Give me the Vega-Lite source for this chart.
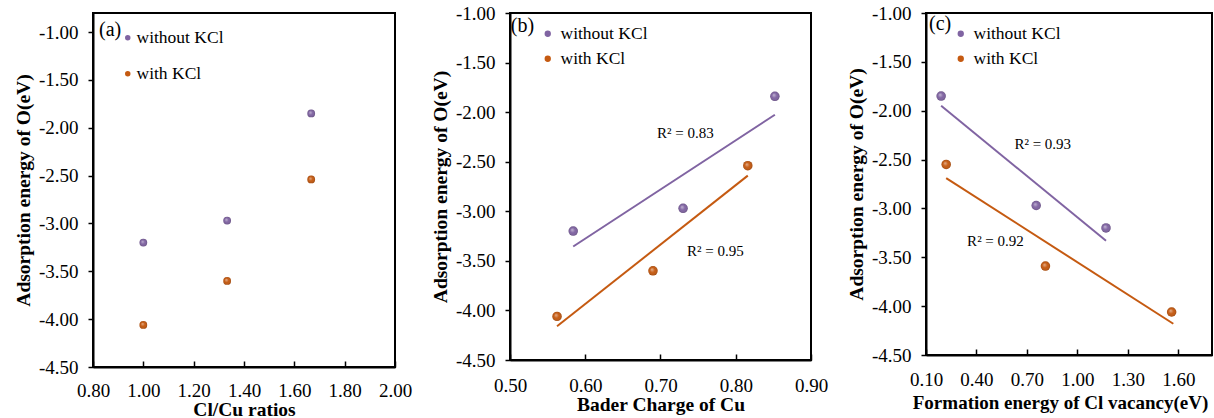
{
  "$schema": "https://vega.github.io/schema/vega-lite/v6.json",
  "background": "white",
  "padding": {"left": 12, "top": 3, "right": 0, "bottom": 0},
  "bounds": "flush",
  "spacing": 115,
  "config": {
    "font": "Liberation Serif",
    "view": {"stroke": "black", "strokeWidth": 2},
    "style": {"guide-label": {"font": "Liberation Serif"}, "guide-title": {"font": "Liberation Serif"}},
    "axis": {
      "grid": false,
      "domainColor": "black",
      "domainWidth": 2,
      "tickColor": "black",
      "tickWidth": 1.5,
      "labelColor": "black",
      "labelFont": "Liberation Serif",
      "labelFontSize": 19,
      "titleFont": "Liberation Serif",
      "titleFontSize": 19.5,
      "titleFontWeight": "bold",
      "titleColor": "black",
      "labelFlush": false,
      "labelOverlap": false
    },
    "axisX": {"tickSize": -6, "labelPadding": 20, "titlePadding": 3, "labelFont": "Liberation Serif"},
    "axisY": {"tickSize": 5, "labelPadding": 10, "titlePadding": 5, "labelFont": "Liberation Serif"},
    "legend": {
      "labelFont": "Liberation Serif",
      "labelFontSize": 17.5,
      "labelColor": "black",
      "symbolType": "circle",
      "symbolSize": 36,
      "symbolStrokeWidth": 0,
      "orient": "none",
      "title": null
    }
  },
  "datasets": {
    "points": [
      {"panel": "a", "series": "without KCl", "x": 1.0, "y": -3.20},
      {"panel": "a", "series": "without KCl", "x": 1.333, "y": -2.97},
      {"panel": "a", "series": "without KCl", "x": 1.667, "y": -1.85},
      {"panel": "a", "series": "with KCl", "x": 1.0, "y": -4.06},
      {"panel": "a", "series": "with KCl", "x": 1.333, "y": -3.60},
      {"panel": "a", "series": "with KCl", "x": 1.667, "y": -2.54},
      {"panel": "b", "series": "without KCl", "x": 0.584, "y": -3.20},
      {"panel": "b", "series": "without KCl", "x": 0.730, "y": -2.97},
      {"panel": "b", "series": "without KCl", "x": 0.852, "y": -1.84},
      {"panel": "b", "series": "with KCl", "x": 0.5625, "y": -4.06},
      {"panel": "b", "series": "with KCl", "x": 0.690, "y": -3.60},
      {"panel": "b", "series": "with KCl", "x": 0.816, "y": -2.54},
      {"panel": "c", "series": "without KCl", "x": 0.19, "y": -1.85},
      {"panel": "c", "series": "without KCl", "x": 0.755, "y": -2.97},
      {"panel": "c", "series": "without KCl", "x": 1.17, "y": -3.20},
      {"panel": "c", "series": "with KCl", "x": 0.22, "y": -2.55},
      {"panel": "c", "series": "with KCl", "x": 0.81, "y": -3.59},
      {"panel": "c", "series": "with KCl", "x": 1.56, "y": -4.06}
    ],
    "trends": [
      {"panel": "b", "series": "without KCl", "x": 0.584, "y": -3.355},
      {"panel": "b", "series": "without KCl", "x": 0.852, "y": -2.026},
      {"panel": "b", "series": "with KCl", "x": 0.5625, "y": -4.16},
      {"panel": "b", "series": "with KCl", "x": 0.816, "y": -2.64},
      {"panel": "c", "series": "without KCl", "x": 0.19, "y": -1.95},
      {"panel": "c", "series": "without KCl", "x": 1.17, "y": -3.33},
      {"panel": "c", "series": "with KCl", "x": 0.22, "y": -2.69},
      {"panel": "c", "series": "with KCl", "x": 1.57, "y": -4.18}
    ],
    "notes": [
      {"panel": "a", "kind": "tag", "text": "(a)", "x": 0.824, "y": -0.975},
      {"panel": "b", "kind": "tag", "text": "(b)", "x": 0.501, "y": -1.135},
      {"panel": "c", "kind": "tag", "text": "(c)", "x": 0.118, "y": -1.11},
      {"panel": "b", "kind": "r2", "text": "R² = 0.83", "x": 0.733, "y": -2.21},
      {"panel": "b", "kind": "r2", "text": "R² = 0.95", "x": 0.773, "y": -3.40},
      {"panel": "c", "kind": "r2", "text": "R² = 0.93", "x": 0.794, "y": -2.34},
      {"panel": "c", "kind": "r2", "text": "R² = 0.92", "x": 0.513, "y": -3.33}
    ]
  },
  "resolve": {"scale": {"color": "independent", "x": "independent", "y": "independent"}, "legend": {"color": "independent"}},
  "hconcat": [
    {
      "width": 302,
      "height": 354,
      "layer": [
        {
          "data": {"name": "points"},
          "transform": [{"filter": "datum.panel === 'a'"}],
          "mark": {"type": "circle", "size": 60, "opacity": 1},
          "encoding": {
            "x": {"field": "x", "type": "quantitative", "scale": {"domain": [0.8, 2.0], "nice": false, "zero": false},
                  "axis": {"title": "Cl/Cu ratios", "values": [0.8, 1.0, 1.2, 1.4, 1.6, 1.8, 2.0], "format": ".2f", "labelFont": "Liberation Serif", "labelPadding": 20, "titlePadding": 0}},
            "y": {"field": "y", "type": "quantitative", "scale": {"domain": [-4.5, -0.8], "nice": false, "zero": false},
                  "axis": {"title": "Adsorption energy of O(eV)", "values": [-4.5, -4.0, -3.5, -3.0, -2.5, -2.0, -1.5, -1.0], "labelFont": "Liberation Serif",
                           "labelExpr": "replace(format(datum.value, '.2f'), '\u2212', '-')"}},
            "color": {"field": "series", "type": "nominal",
                      "scale": {"domain": ["without KCl", "with KCl"], "range": ["#8064A2", "#C55A11"]},
                      "legend": {"legendX": 26, "legendY": 16, "symbolSize": 30, "labelOffset": 0, "rowPadding": 17}}
          }
        },
        {
          "data": {"name": "points"},
          "transform": [{"filter": "datum.panel === 'a'"}],
          "mark": {"type": "circle", "size": 60, "opacity": 1,
                   "fill": {"gradient": "radial", "x1": 0.38, "y1": 0.35, "r1": 0, "x2": 0.5, "y2": 0.5, "r2": 0.5,
                            "stops": [{"offset": 0, "color": "rgba(255,255,255,0.55)"}, {"offset": 0.55, "color": "rgba(255,255,255,0)"}, {"offset": 1, "color": "rgba(0,0,0,0.2)"}]}},
          "encoding": {"x": {"field": "x", "type": "quantitative"}, "y": {"field": "y", "type": "quantitative"}}
        },
        {
          "data": {"name": "notes"},
          "transform": [{"filter": "datum.panel === 'a'"}],
          "mark": {"type": "text", "align": "left", "baseline": "middle", "fontSize": 20, "color": "black"},
          "encoding": {"x": {"field": "x", "type": "quantitative"}, "y": {"field": "y", "type": "quantitative"}, "text": {"field": "text"}}
        }
      ]
    },
    {
      "width": 301,
      "height": 347,
      "layer": [
        {
          "data": {"name": "trends"},
          "transform": [{"filter": "datum.panel === 'b'"}],
          "mark": {"type": "line", "strokeWidth": 2},
          "encoding": {
            "x": {"field": "x", "type": "quantitative", "scale": {"domain": [0.5, 0.9], "nice": false, "zero": false},
                  "axis": {"title": "Bader Charge of Cu", "values": [0.5, 0.6, 0.7, 0.8, 0.9], "format": ".2f", "labelFont": "Liberation Serif", "labelPadding": 22, "titlePadding": 0}},
            "y": {"field": "y", "type": "quantitative", "scale": {"domain": [-4.5, -1.0], "nice": false, "zero": false},
                  "axis": {"title": "Adsorption energy of O(eV)", "values": [-4.5, -4.0, -3.5, -3.0, -2.5, -2.0, -1.5, -1.0], "labelFont": "Liberation Serif",
                           "labelExpr": "replace(format(datum.value, '.2f'), '\u2212', '-')"}},
            "color": {"field": "series", "type": "nominal",
                      "scale": {"domain": ["without KCl", "with KCl"], "range": ["#8064A2", "#C55A11"]},
                      "legend": {"legendX": 29, "legendY": 12, "symbolSize": 40, "labelOffset": 4, "rowPadding": 6}},
            "detail": {"field": "series"}
          }
        },
        {
          "data": {"name": "points"},
          "transform": [{"filter": "datum.panel === 'b'"}],
          "mark": {"type": "circle", "size": 90, "opacity": 1},
          "encoding": {
            "x": {"field": "x", "type": "quantitative"},
            "y": {"field": "y", "type": "quantitative"},
            "color": {"field": "series", "type": "nominal"}
          }
        },
        {
          "data": {"name": "points"},
          "transform": [{"filter": "datum.panel === 'b'"}],
          "mark": {"type": "circle", "size": 90, "opacity": 1,
                   "fill": {"gradient": "radial", "x1": 0.38, "y1": 0.35, "r1": 0, "x2": 0.5, "y2": 0.5, "r2": 0.5,
                            "stops": [{"offset": 0, "color": "rgba(255,255,255,0.55)"}, {"offset": 0.55, "color": "rgba(255,255,255,0)"}, {"offset": 1, "color": "rgba(0,0,0,0.2)"}]}},
          "encoding": {"x": {"field": "x", "type": "quantitative"}, "y": {"field": "y", "type": "quantitative"}}
        },
        {
          "data": {"name": "notes"},
          "transform": [{"filter": "datum.panel === 'b' && datum.kind === 'tag'"}],
          "mark": {"type": "text", "align": "left", "baseline": "middle", "fontSize": 20, "color": "black"},
          "encoding": {"x": {"field": "x", "type": "quantitative"}, "y": {"field": "y", "type": "quantitative"}, "text": {"field": "text"}}
        },
        {
          "data": {"name": "notes"},
          "transform": [{"filter": "datum.panel === 'b' && datum.kind === 'r2'"}],
          "mark": {"type": "text", "align": "center", "baseline": "middle", "fontSize": 15, "color": "black"},
          "encoding": {"x": {"field": "x", "type": "quantitative"}, "y": {"field": "y", "type": "quantitative"}, "text": {"field": "text"}}
        }
      ]
    },
    {
      "width": 286,
      "height": 342,
      "layer": [
        {
          "data": {"name": "trends"},
          "transform": [{"filter": "datum.panel === 'c'"}],
          "mark": {"type": "line", "strokeWidth": 2},
          "encoding": {
            "x": {"field": "x", "type": "quantitative", "scale": {"domain": [0.1, 1.8], "nice": false, "zero": false},
                  "axis": {"title": "Formation energy of Cl vacancy(eV)", "values": [0.1, 0.4, 0.7, 1.0, 1.3, 1.6], "format": ".2f", "labelFont": "Liberation Serif", "labelPadding": 21, "titlePadding": 4, "titleFontSize": 19, "titleX": 134}},
            "y": {"field": "y", "type": "quantitative", "scale": {"domain": [-4.5, -1.0], "nice": false, "zero": false},
                  "axis": {"title": "Adsorption energy of O(eV)", "values": [-4.5, -4.0, -3.5, -3.0, -2.5, -2.0, -1.5, -1.0], "labelFont": "Liberation Serif",
                           "labelExpr": "replace(format(datum.value, '.2f'), '\u2212', '-')"}},
            "color": {"field": "series", "type": "nominal",
                      "scale": {"domain": ["without KCl", "with KCl"], "range": ["#8064A2", "#C55A11"]},
                      "legend": {"legendX": 26, "legendY": 12, "symbolSize": 40, "labelOffset": 4, "rowPadding": 6}},
            "detail": {"field": "series"}
          }
        },
        {
          "data": {"name": "points"},
          "transform": [{"filter": "datum.panel === 'c'"}],
          "mark": {"type": "circle", "size": 90, "opacity": 1},
          "encoding": {
            "x": {"field": "x", "type": "quantitative"},
            "y": {"field": "y", "type": "quantitative"},
            "color": {"field": "series", "type": "nominal"}
          }
        },
        {
          "data": {"name": "points"},
          "transform": [{"filter": "datum.panel === 'c'"}],
          "mark": {"type": "circle", "size": 90, "opacity": 1,
                   "fill": {"gradient": "radial", "x1": 0.38, "y1": 0.35, "r1": 0, "x2": 0.5, "y2": 0.5, "r2": 0.5,
                            "stops": [{"offset": 0, "color": "rgba(255,255,255,0.55)"}, {"offset": 0.55, "color": "rgba(255,255,255,0)"}, {"offset": 1, "color": "rgba(0,0,0,0.2)"}]}},
          "encoding": {"x": {"field": "x", "type": "quantitative"}, "y": {"field": "y", "type": "quantitative"}}
        },
        {
          "data": {"name": "notes"},
          "transform": [{"filter": "datum.panel === 'c' && datum.kind === 'tag'"}],
          "mark": {"type": "text", "align": "left", "baseline": "middle", "fontSize": 20, "color": "black"},
          "encoding": {"x": {"field": "x", "type": "quantitative"}, "y": {"field": "y", "type": "quantitative"}, "text": {"field": "text"}}
        },
        {
          "data": {"name": "notes"},
          "transform": [{"filter": "datum.panel === 'c' && datum.kind === 'r2'"}],
          "mark": {"type": "text", "align": "center", "baseline": "middle", "fontSize": 15, "color": "black"},
          "encoding": {"x": {"field": "x", "type": "quantitative"}, "y": {"field": "y", "type": "quantitative"}, "text": {"field": "text"}}
        }
      ]
    }
  ]
}
